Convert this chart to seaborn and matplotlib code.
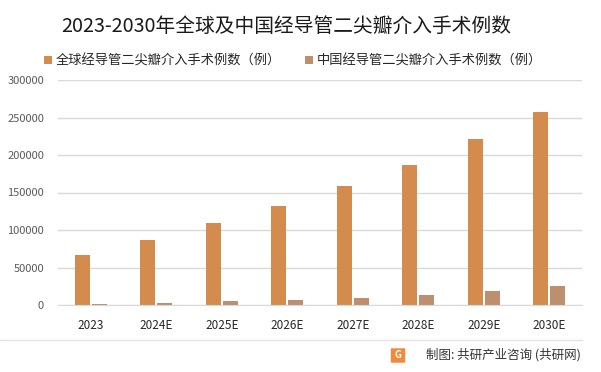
import numpy as np
import pandas as pd
import seaborn as sns
import matplotlib.pyplot as plt
from matplotlib.lines import Line2D
from matplotlib.patches import FancyBboxPatch

# 数据
years = ["2023", "2024E", "2025E", "2026E", "2027E", "2028E", "2029E", "2030E"]
global_cases = [66700, 86700, 109300, 132000, 158700, 186700, 221300, 257300]
china_cases = [1500, 2700, 4700, 7300, 10000, 14000, 18300, 24800]
series_names = ["全球经导管二尖瓣介入手术例数（例）", "中国经导管二尖瓣介入手术例数（例）"]
palette = ["#D48C4E", "#BD8F6E"]

df = pd.DataFrame({"年份": years * 2,
                   "例数": global_cases + china_cases,
                   "系列": [series_names[0]] * len(years) + [series_names[1]] * len(years)})

sns.set_style("white")
plt.rcParams['font.family'] = ['Noto Sans CJK SC', 'DejaVu Sans']

fig = plt.figure(figsize=(6.01, 3.72), dpi=100)
ax = fig.add_axes([58 / 601, 67 / 372, 524 / 601, 225 / 372])

sns.barplot(data=df, x="年份", y="例数", hue="系列", palette=palette,
            width=0.52, gap=0.12, saturation=1, linewidth=0, ax=ax, legend=True)

ax.set_ylim(0, 300000)
ax.set_yticks(np.arange(0, 300001, 50000))
ax.set_xlim(-0.5, len(years) - 0.5)
ax.yaxis.grid(True, color="#D9D9D9", linewidth=1)
ax.set_axisbelow(True)
for s in ["top", "right", "left"]:
    ax.spines[s].set_visible(False)
ax.spines["bottom"].set_color("#D9D9D9")
ax.tick_params(axis="both", length=0)
ax.tick_params(axis="y", labelsize=8, labelcolor="#595959", pad=10)
ax.tick_params(axis="x", labelsize=8.5, labelcolor="#262626", pad=10)
ax.set_xlabel("")
ax.set_ylabel("")

handles, labels = ax.get_legend_handles_labels()
ax.legend_.remove()
fig.legend(handles, labels, loc="center", bbox_to_anchor=(293 / 601, 1 - 61 / 372),
           ncol=2, frameon=False, fontsize=9.5, handlelength=0.6, handleheight=0.6,
           handletextpad=0.3, columnspacing=1.8, labelcolor="#262626")

fig.text(286 / 601, 1 - 26 / 372, "2023-2030年全球及中国经导管二尖瓣介入手术例数",
         ha="center", va="center", fontsize=14.2, color="#1a1a1a")

# 底部分隔线与来源
fig.add_artist(Line2D([0, 582 / 601], [1 - 340 / 372] * 2, color="#E3E3E3", linewidth=1))
logo = FancyBboxPatch((392 / 601, 1 - 362 / 372), 12 / 601, 13 / 372,
                      boxstyle="round,pad=0.002", transform=fig.transFigure,
                      facecolor="#F08A3C", edgecolor="none")
fig.add_artist(logo)
fig.text(398 / 601, 1 - 355.5 / 372, "G", ha="center", va="center", fontsize=7,
         color="white", fontweight="bold")
fig.text(581 / 601, 1 - 355 / 372, "制图: 共研产业咨询 (共研网)", ha="right", va="center",
         fontsize=9, color="#333333")

fig.savefig("out.png", dpi=100)
